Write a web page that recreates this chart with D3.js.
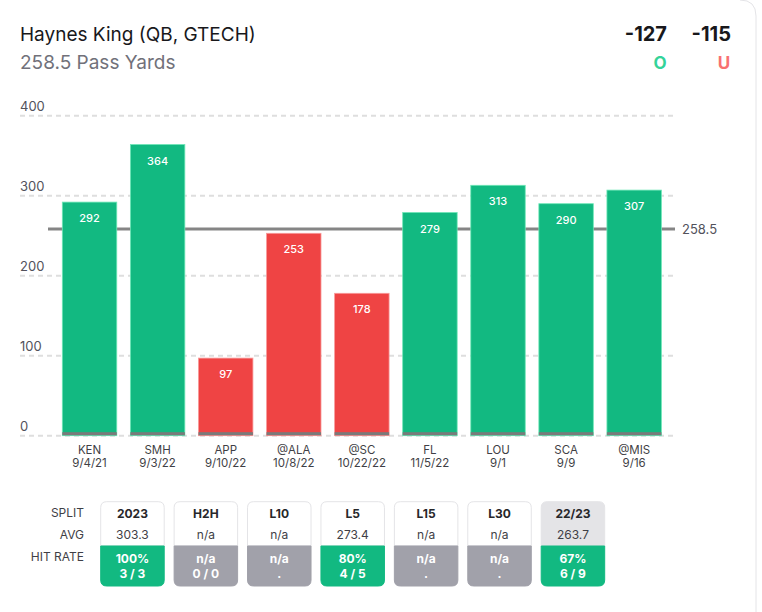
<!DOCTYPE html>
<html>
<head>
<meta charset="utf-8">
<script src="https://cdn.jsdelivr.net/npm/d3@7"></script>
<style>
  html, body { margin: 0; padding: 0; background: #fff; }
  svg { display: block; font-family: Inter, "Noto Sans", sans-serif; }
</style>
</head>
<body>
<svg id="chart" width="762" height="612"></svg>
<script>
// --- data ---
const player = 'Haynes King (QB, GTECH)';
const propLine = 258.5;
const propLabel = '258.5 Pass Yards';
const odds = ['-127', '-115'];
const oddsSide = ['O', 'U'];

const opponents = ['KEN', 'SMH', 'APP', '@ALA', '@SC', 'FL', 'LOU', 'SCA', '@MIS'];
const gameDates = ['9/4/21', '9/3/22', '9/10/22', '10/8/22', '10/22/22', '11/5/22', '9/1', '9/9', '9/16'];
const passYards = [292, 364, 97, 253, 178, 279, 313, 290, 307];
const yTicks = [0, 100, 200, 300, 400];

const splitNames = ['2023', 'H2H', 'L10', 'L5', 'L15', 'L30', '22/23'];
const splitAvg = ['303.3', 'n/a', 'n/a', '273.4', 'n/a', 'n/a', '263.7'];
const splitRate = ['100%', 'n/a', 'n/a', '80%', 'n/a', 'n/a', '67%'];
const splitCount = ['3 / 3', '0 / 0', '.', '4 / 5', '.', '.', '6 / 9'];

const GREEN = '#12b981';
const RED = '#ef4444';
const GREY = '#a1a1aa';

const svg = d3.select('#chart');

// card edge on right
svg.append('path')
  .attr('d', 'M740,0 Q756,0 756,16 L756,612')
  .attr('fill', 'none').attr('stroke', '#e4e4e7').attr('stroke-width', 1);

// --- header ---
svg.append('text').attr('x', 20).attr('y', 41)
  .attr('font-size', 19).attr('fill', '#18181b').text(player);
svg.append('text').attr('x', 20).attr('y', 68.5)
  .attr('font-size', 19).attr('fill', '#71717a').text(propLabel);

const oddsX = [667, 731];
odds.forEach((o, i) => {
  svg.append('text').attr('x', oddsX[i]).attr('y', 41)
    .attr('text-anchor', 'end').attr('font-size', 20).attr('font-weight', 700)
    .attr('fill', '#18181b').text(o);
  svg.append('text').attr('x', oddsX[i] - 7).attr('y', 69)
    .attr('text-anchor', 'middle').attr('font-size', 17).attr('font-weight', 700)
    .attr('fill', i === 0 ? '#34d399' : '#f87171').text(oddsSide[i]);
});

// --- bar chart ---
const x = d3.scaleBand().domain(opponents)
  .range([55.5, 668.2]).paddingInner(0.2).paddingOuter(0.1);
const y = d3.scaleLinear().domain([0, 400]).range([435.7, 115.7]);

const gGrid = svg.append('g');
yTicks.forEach(t => {
  gGrid.append('line')
    .attr('x1', 20).attr('x2', 674)
    .attr('y1', y(t)).attr('y2', y(t))
    .attr('stroke', '#dedede').attr('stroke-width', 2)
    .attr('stroke-dasharray', '5,4');
  gGrid.append('text')
    .attr('x', 20).attr('y', y(t) - 5)
    .attr('font-size', 13).attr('fill', '#52525b').text(t);
});

// prop line (behind bars)
svg.append('line')
  .attr('x1', 48).attr('x2', 675)
  .attr('y1', y(propLine)).attr('y2', y(propLine))
  .attr('stroke', '#858585').attr('stroke-width', 3);
svg.append('text')
  .attr('x', 682).attr('y', y(propLine) + 5)
  .attr('font-size', 13).attr('fill', '#52525b').text(propLine);

const gBars = svg.append('g');
const bars = gBars.selectAll('g.bar')
  .data(passYards.map((v, i) => ({ v, team: opponents[i], date: gameDates[i] })))
  .enter().append('g').attr('class', 'bar');

bars.append('rect')
  .attr('x', d => x(d.team))
  .attr('y', d => y(d.v))
  .attr('width', x.bandwidth())
  .attr('height', d => y(0) - y(d.v))
  .attr('fill', d => d.v > propLine ? GREEN : RED)
  .attr('stroke', d => d.v > propLine ? '#6ee7b7' : '#f89a9a')
  .attr('stroke-width', 0.8);

// grey strip at bar foot
bars.append('rect')
  .attr('x', d => x(d.team))
  .attr('y', y(0) - 3.5)
  .attr('width', x.bandwidth())
  .attr('height', 3)
  .attr('fill', '#7a7a7a');

bars.append('text')
  .attr('x', d => x(d.team) + x.bandwidth() / 2)
  .attr('y', d => y(d.v) + 20)
  .attr('text-anchor', 'middle')
  .attr('font-size', 11).attr('font-weight', 500)
  .attr('fill', '#fff').text(d => d.v);

bars.append('text')
  .attr('x', d => x(d.team) + x.bandwidth() / 2)
  .attr('y', 453.5)
  .attr('text-anchor', 'middle')
  .attr('font-size', 11.5).attr('fill', '#3f3f46').text(d => d.team);
bars.append('text')
  .attr('x', d => x(d.team) + x.bandwidth() / 2)
  .attr('y', 467)
  .attr('text-anchor', 'middle')
  .attr('font-size', 11.5).attr('fill', '#3f3f46').text(d => d.date);

// --- split table ---
const rowLabels = ['SPLIT', 'AVG', 'HIT RATE'];
const rowY = [517, 539, 561];
rowLabels.forEach((r, i) => {
  svg.append('text').attr('x', 84).attr('y', rowY[i])
    .attr('text-anchor', 'end').attr('font-size', 12)
    .attr('fill', '#3f3f46').text(r);
});

const cx = d3.scaleBand().domain(splitNames)
  .range([100.7, 100.7 + 72 * 7]).paddingInner(0.135).paddingOuter(0);
const cardTop = 501.7, cardMid = 546, cardBot = 586, rad = 6;

const cards = svg.selectAll('g.card')
  .data(splitNames.map((s, i) => ({ s, avg: splitAvg[i], rate: splitRate[i], cnt: splitCount[i], i })))
  .enter().append('g').attr('class', 'card')
  .attr('transform', d => `translate(${cx(d.s)},0)`);

const w = cx.bandwidth();
const hit = d => d.rate === 'n/a' ? GREY : GREEN;

cards.append('path')
  .attr('d', `M0,${cardMid} L0,${cardTop + rad} Q0,${cardTop} ${rad},${cardTop} L${w - rad},${cardTop} Q${w},${cardTop} ${w},${cardTop + rad} L${w},${cardMid} Z`)
  .attr('fill', d => d.s === '22/23' ? '#e4e4e7' : '#fff')
  .attr('stroke', '#e4e4e7');
cards.append('path')
  .attr('d', `M0,${cardMid} L0,${cardBot - rad} Q0,${cardBot} ${rad},${cardBot} L${w - rad},${cardBot} Q${w},${cardBot} ${w},${cardBot - rad} L${w},${cardMid} Z`)
  .attr('fill', hit)
  .attr('stroke', hit);

cards.append('text').attr('x', w / 2).attr('y', 518)
  .attr('text-anchor', 'middle').attr('font-size', 12).attr('font-weight', 700)
  .attr('fill', '#27272a').text(d => d.s);
cards.append('text').attr('x', w / 2).attr('y', 539)
  .attr('text-anchor', 'middle').attr('font-size', 12)
  .attr('fill', '#3f3f46').text(d => d.avg);
cards.append('text').attr('x', w / 2).attr('y', 563)
  .attr('text-anchor', 'middle').attr('font-size', 12).attr('font-weight', 700)
  .attr('fill', '#fff').text(d => d.rate);
cards.append('text').attr('x', w / 2).attr('y', 578)
  .attr('text-anchor', 'middle').attr('font-size', 12).attr('font-weight', 700)
  .attr('fill', '#fff').text(d => d.cnt);
</script>
</body>
</html>
